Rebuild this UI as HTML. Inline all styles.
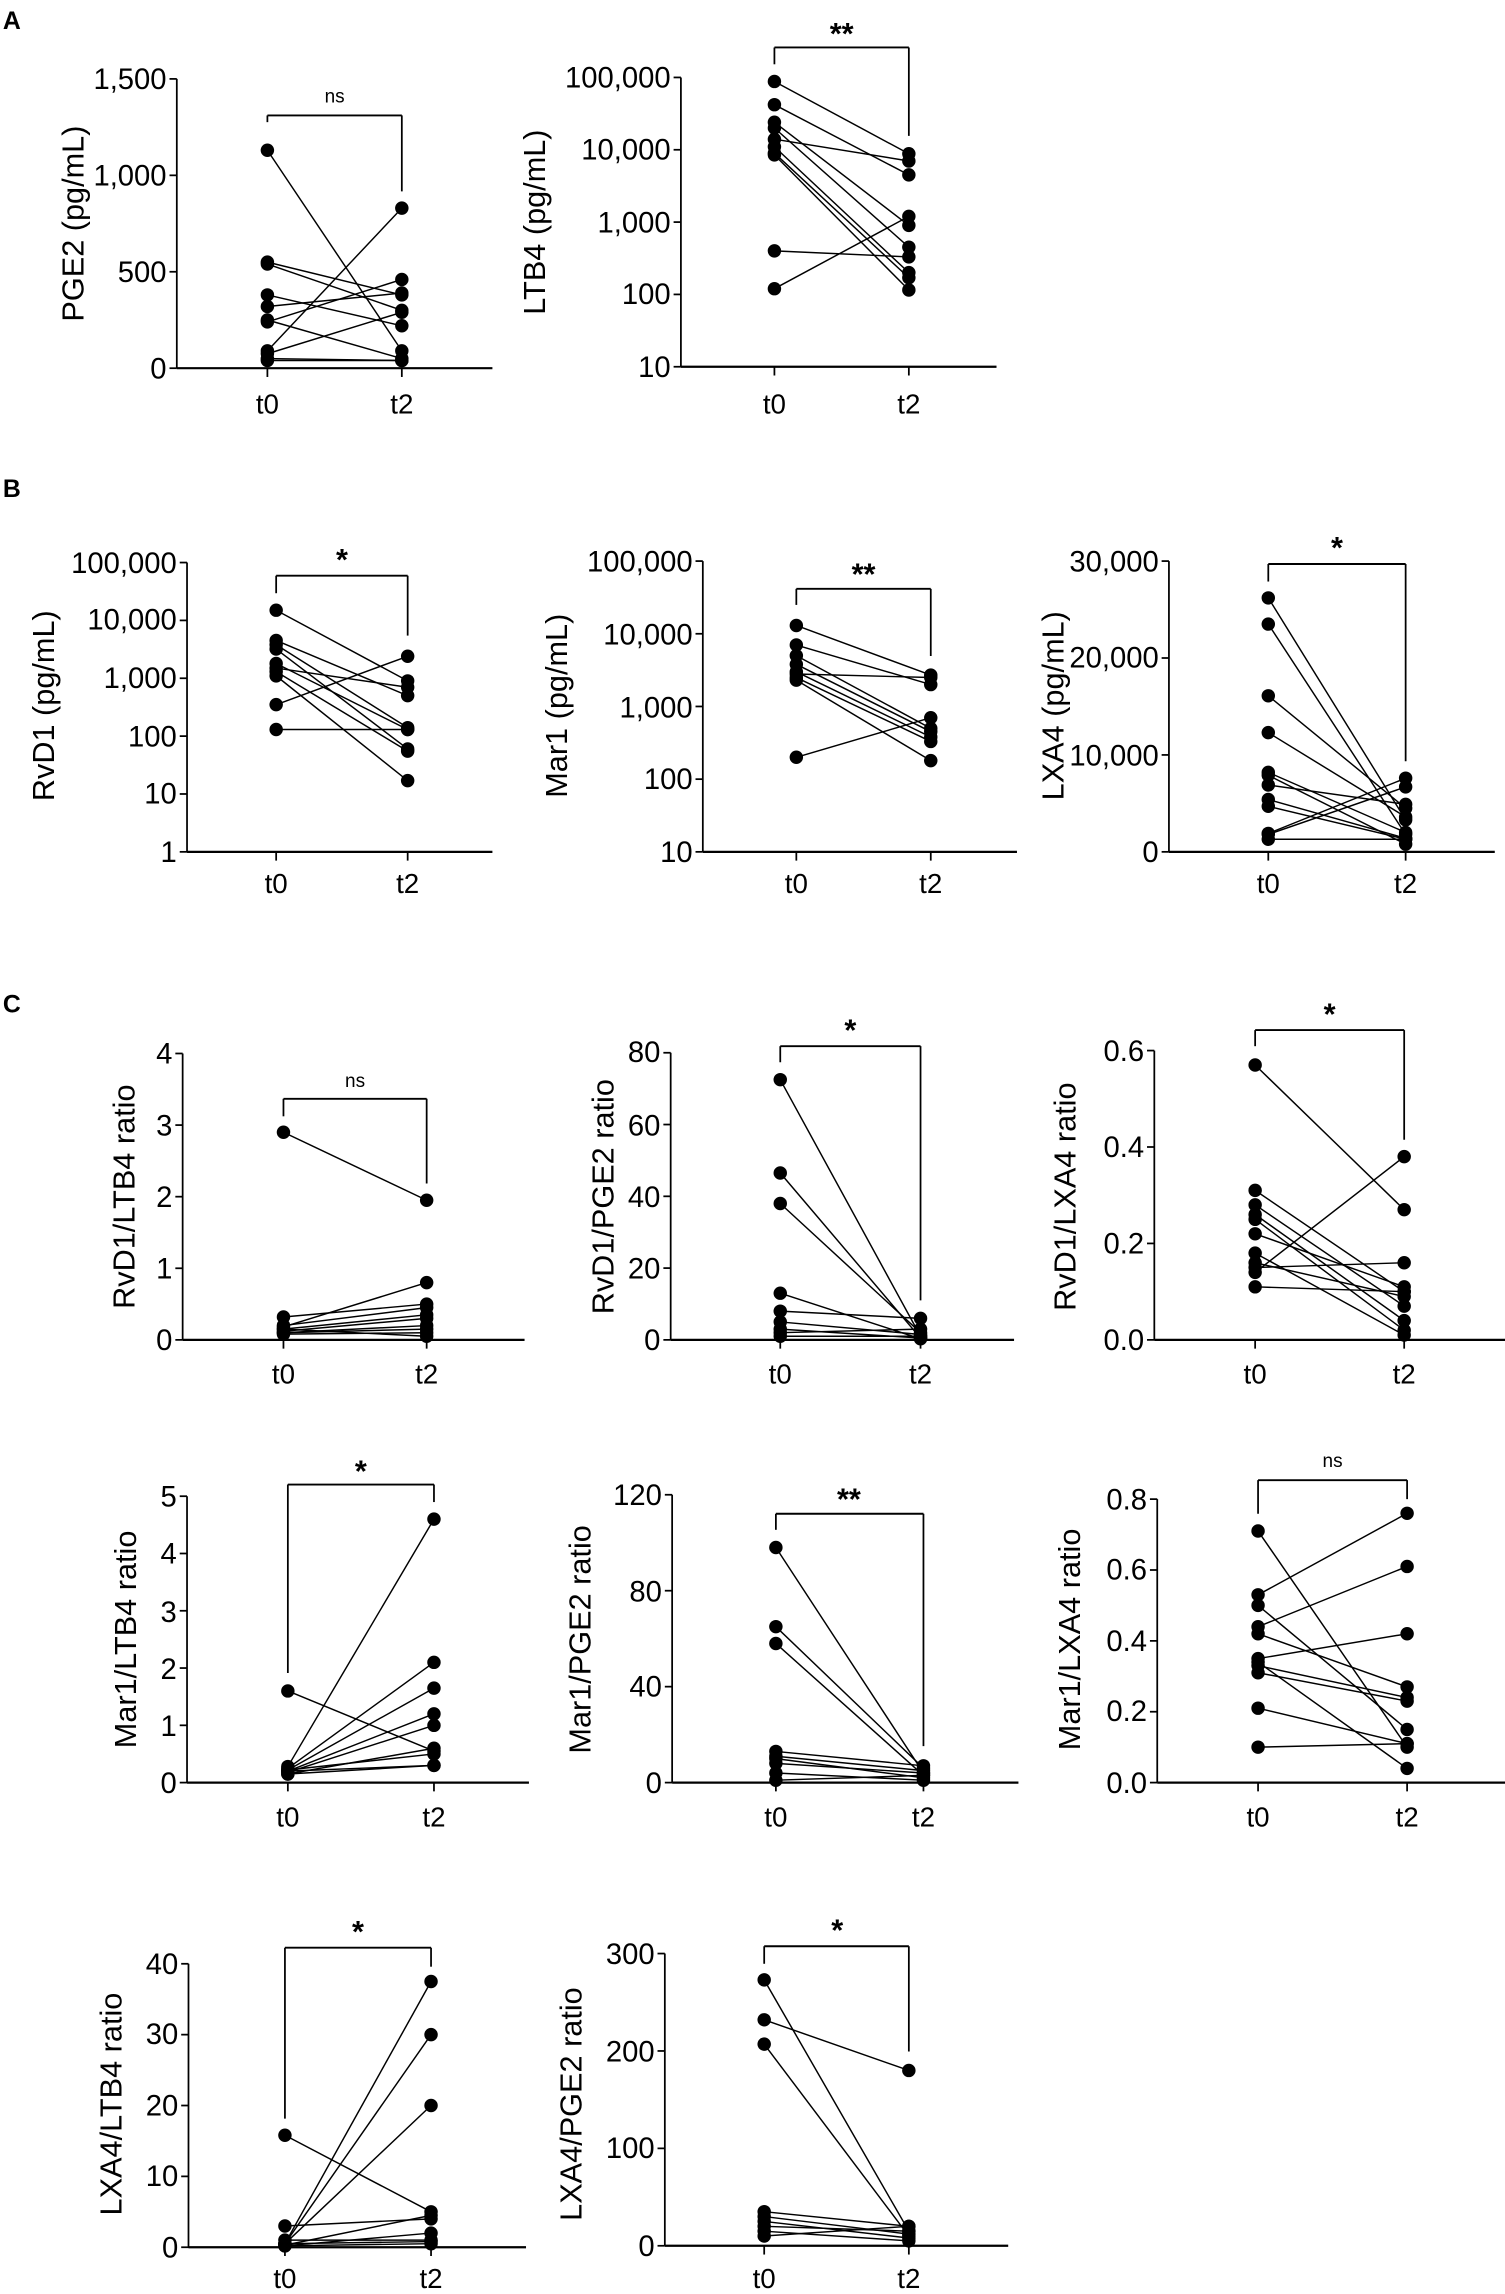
<!DOCTYPE html>
<html><head><meta charset="utf-8"><style>
html,body{margin:0;padding:0;background:#fff;}
svg{display:block;}
text{font-family:"Liberation Sans",Arial,sans-serif;fill:#000;}
.tk{font-size:20px;text-anchor:end;}
.tt{font-size:21px;text-anchor:middle;}
.tx{font-size:19px;text-anchor:middle;}
.st{font-size:21px;font-weight:bold;text-anchor:middle;}
.ns{font-size:13px;text-anchor:middle;}
.pl{font-size:17px;font-weight:bold;}
</style></head><body>
<svg id="s" width="1505" height="2294" viewBox="0 0 1030 1570" preserveAspectRatio="none" xmlns="http://www.w3.org/2000/svg">
<g id="g"></g>
<text class="pl" x="2" y="20">A</text>
<text class="pl" x="2" y="340">B</text>
<text class="pl" x="2" y="693">C</text>

<!-- A1 -->
<text class="tk" x="114" y="61">1,500</text><text class="tk" x="114" y="127">1,000</text><text class="tk" x="114" y="193">500</text><text class="tk" x="114" y="259">0</text>
<text class="tt" transform="translate(57,153) rotate(-90)">PGE2 (pg/mL)</text>
<text class="tx" x="183" y="283">t0</text><text class="tx" x="275" y="283">t2</text>
<text class="ns" x="229" y="70">ns</text>
<!-- A2 -->
<text class="tk" x="459" y="60">100,000</text><text class="tk" x="459" y="109">10,000</text><text class="tk" x="459" y="159">1,000</text><text class="tk" x="459" y="208">100</text><text class="tk" x="459" y="258">10</text>
<text class="tt" transform="translate(373,152) rotate(-90)">LTB4 (pg/mL)</text>
<text class="tx" x="530" y="283">t0</text><text class="tx" x="622" y="283">t2</text>
<text class="st" x="576" y="30">**</text>

<!-- B1 -->
<text class="tk" x="121" y="392">100,000</text><text class="tk" x="121" y="431">10,000</text><text class="tk" x="121" y="471">1,000</text><text class="tk" x="121" y="511">100</text><text class="tk" x="121" y="550">10</text><text class="tk" x="121" y="590">1</text>
<text class="tt" transform="translate(37,483) rotate(-90)">RvD1 (pg/mL)</text>
<text class="tx" x="189" y="611">t0</text><text class="tx" x="279" y="611">t2</text>
<text class="st" x="234" y="390">*</text>
<!-- B2 -->
<text class="tk" x="474" y="391">100,000</text><text class="tk" x="474" y="441">10,000</text><text class="tk" x="474" y="491">1,000</text><text class="tk" x="474" y="540">100</text><text class="tk" x="474" y="590">10</text>
<text class="tt" transform="translate(388,483) rotate(-90)">Mar1 (pg/mL)</text>
<text class="tx" x="545" y="611">t0</text><text class="tx" x="637" y="611">t2</text>
<text class="st" x="591" y="400">**</text>
<!-- B3 -->
<text class="tk" x="793" y="391">30,000</text><text class="tk" x="793" y="457">20,000</text><text class="tk" x="793" y="524">10,000</text><text class="tk" x="793" y="590">0</text>
<text class="tt" transform="translate(728,483) rotate(-90)">LXA4 (pg/mL)</text>
<text class="tx" x="868" y="611">t0</text><text class="tx" x="962" y="611">t2</text>
<text class="st" x="915" y="382">*</text>

<!-- C1 -->
<text class="tk" x="118" y="728">4</text><text class="tk" x="118" y="777">3</text><text class="tk" x="118" y="826">2</text><text class="tk" x="118" y="875">1</text><text class="tk" x="118" y="924">0</text>
<text class="tt" transform="translate(92,819) rotate(-90)">RvD1/LTB4 ratio</text>
<text class="tx" x="194" y="947">t0</text><text class="tx" x="292" y="947">t2</text>
<text class="ns" x="243" y="744">ns</text>
<!-- C2 -->
<text class="tk" x="452" y="727">80</text><text class="tk" x="452" y="777">60</text><text class="tk" x="452" y="826">40</text><text class="tk" x="452" y="875">20</text><text class="tk" x="452" y="924">0</text>
<text class="tt" transform="translate(420,819) rotate(-90)">RvD1/PGE2 ratio</text>
<text class="tx" x="534" y="947">t0</text><text class="tx" x="630" y="947">t2</text>
<text class="st" x="582" y="712">*</text>
<!-- C3 -->
<text class="tk" x="783" y="726">0.6</text><text class="tk" x="783" y="792">0.4</text><text class="tk" x="783" y="858">0.2</text><text class="tk" x="783" y="924">0.0</text>
<text class="tt" transform="translate(736,819) rotate(-90)">RvD1/LXA4 ratio</text>
<text class="tx" x="859" y="947">t0</text><text class="tx" x="961" y="947">t2</text>
<text class="st" x="910" y="701">*</text>

<!-- C4 -->
<text class="tk" x="121" y="1031">5</text><text class="tk" x="121" y="1070">4</text><text class="tk" x="121" y="1110">3</text><text class="tk" x="121" y="1149">2</text><text class="tk" x="121" y="1188">1</text><text class="tk" x="121" y="1227">0</text>
<text class="tt" transform="translate(93,1122) rotate(-90)">Mar1/LTB4 ratio</text>
<text class="tx" x="197" y="1250">t0</text><text class="tx" x="297" y="1250">t2</text>
<text class="st" x="247" y="1014">*</text>
<!-- C5 -->
<text class="tk" x="453" y="1030">120</text><text class="tk" x="453" y="1096">80</text><text class="tk" x="453" y="1161">40</text><text class="tk" x="453" y="1227">0</text>
<text class="tt" transform="translate(404,1122) rotate(-90)">Mar1/PGE2 ratio</text>
<text class="tx" x="531" y="1250">t0</text><text class="tx" x="632" y="1250">t2</text>
<text class="st" x="581" y="1033">**</text>
<!-- C6 -->
<text class="tk" x="785" y="1033">0.8</text><text class="tk" x="785" y="1081">0.6</text><text class="tk" x="785" y="1130">0.4</text><text class="tk" x="785" y="1178">0.2</text><text class="tk" x="785" y="1227">0.0</text>
<text class="tt" transform="translate(739,1122) rotate(-90)">Mar1/LXA4 ratio</text>
<text class="tx" x="861" y="1250">t0</text><text class="tx" x="963" y="1250">t2</text>
<text class="ns" x="912" y="1004">ns</text>

<!-- C7 -->
<text class="tk" x="122" y="1351">40</text><text class="tk" x="122" y="1399">30</text><text class="tk" x="122" y="1448">20</text><text class="tk" x="122" y="1496">10</text><text class="tk" x="122" y="1545">0</text>
<text class="tt" transform="translate(83,1440) rotate(-90)">LXA4/LTB4 ratio</text>
<text class="tx" x="195" y="1566">t0</text><text class="tx" x="295" y="1566">t2</text>
<text class="st" x="245" y="1329">*</text>
<!-- C8 -->
<text class="tk" x="448" y="1344">300</text><text class="tk" x="448" y="1411">200</text><text class="tk" x="448" y="1477">100</text><text class="tk" x="448" y="1544">0</text>
<text class="tt" transform="translate(398,1440) rotate(-90)">LXA4/PGE2 ratio</text>
<text class="tx" x="523" y="1566">t0</text><text class="tx" x="622" y="1566">t2</text>
<text class="st" x="573" y="1328">*</text>
</svg>
<script>
var P=[
{x:121,top:54,bot:252,end:337,t0:183,t2:275,lin:[0,1500],tk:[0,500,1000,1500],br:[79,83.6,131],
 d:[[1130,90],[550,380],[540,300],[380,220],[320,390],[250,50],[240,460],[90,830],[75,290],[50,40],[40,40]]},
{x:466,top:53,bot:251,end:682,t0:530,t2:622,log:[1,5],br:[32.5,44,93],
 d:[[88000,8800],[42000,4500],[24000,900],[20000,450],[14000,7000],[11000,200],[9000,170],[8500,115],[400,330],[120,1200]]},
{x:128,top:385,bot:583,end:337,t0:189,t2:279,log:[0,5],br:[394,406,435],
 d:[[15000,900],[4500,500],[3800,140],[3200,60],[1800,130],[1300,55],[1100,17],[350,2400],[130,130],[1500,700]]},
{x:481,top:384,bot:583,end:696,t0:545,t2:637,log:[1,5],br:[403,414,449],
 d:[[13000,2700],[7000,2000],[5000,500],[3800,450],[3000,380],[2500,330],[2300,180],[200,700],[2800,2500]]},
{x:800,top:384,bot:583,end:1023,t0:868,t2:962,lin:[0,30000],tk:[0,10000,20000,30000],br:[386,398,521],
 d:[[26200,3300],[23500,1800],[16100,4500],[12300,3600],[8200,2000],[7900,800],[6900,4900],[5400,1400],[4700,1300],[1900,7600],[1300,1300],[1800,6700]]},
{x:125,top:721,bot:917,end:359,t0:194,t2:292,lin:[0,4],tk:[0,1,2,3,4],br:[752,764,810],
 d:[[2.9,1.95],[0.32,0.5],[0.2,0.45],[0.18,0.8],[0.15,0.35],[0.12,0.3],[0.1,0.2],[0.08,0.1],[0.15,0.05],[0.1,0.15]]},
{x:459,top:720.5,bot:917,end:694,t0:534,t2:630,lin:[0,80],tk:[0,20,40,60,80],br:[716,727,890],
 d:[[72.5,1],[46.5,0.5],[38,2],[13,0.3],[8,6],[5,1.5],[3,0.5],[2,3],[1,1]]},
{x:790,top:719,bot:917,end:1030,t0:859,t2:961,lin:[0,0.6],tk:[0,0.2,0.4,0.6],br:[705,716,780],
 d:[[0.57,0.27],[0.31,0.1],[0.28,0.07],[0.26,0.04],[0.25,0.02],[0.22,0.11],[0.18,0.01],[0.16,0.09],[0.15,0.16],[0.14,0.38],[0.11,0.1]]},
{x:128,top:1024,bot:1220,end:362,t0:197,t2:297,lin:[0,5],tk:[0,1,2,3,4,5],br:[1016,1145,1028],
 d:[[1.6,0.55],[0.28,4.6],[0.25,2.1],[0.22,1.65],[0.2,1.2],[0.18,1.0],[0.15,0.6],[0.22,0.5],[0.15,0.3],[0.2,0.3]]},
{x:460,top:1023,bot:1220,end:697,t0:531,t2:632,lin:[0,120],tk:[0,40,80,120],br:[1036,1047,1195],
 d:[[98,4],[65,6],[58,3],[13,7],[11,5],[10,2],[8,4],[4,1],[1,3]]},
{x:792,top:1026,bot:1220,end:1030,t0:861,t2:963,lin:[0,0.8],tk:[0,0.2,0.4,0.6,0.8],br:[1013,1036,1026],
 d:[[0.71,0.1],[0.53,0.76],[0.5,0.15],[0.44,0.61],[0.42,0.27],[0.35,0.42],[0.33,0.24],[0.31,0.23],[0.21,0.11],[0.1,0.11],[0.34,0.04]]},
{x:129,top:1344,bot:1538,end:360,t0:195,t2:295,lin:[0,40],tk:[0,10,20,30,40],br:[1333,1450,1346],
 d:[[15.8,5],[3,4],[0.5,37.5],[0.5,30],[0.5,20],[0.3,4.5],[0.2,2],[1,1],[0.2,0.5],[0.5,0.8]]},
{x:455,top:1337,bot:1537,end:690,t0:523,t2:622,lin:[0,300],tk:[0,100,200,300],br:[1332,1344,1404],
 d:[[273,15],[232,180],[207,10],[35,20],[30,12],[25,8],[20,15],[15,5],[10,20]]}
];
var g=document.getElementById('g'),h='';
function L(a,b,c,d,w){h+='<line x1="'+a+'" y1="'+b+'" x2="'+c+'" y2="'+d+'" stroke="#000" stroke-width="'+(w||1)+'"/>';}
P.forEach(function(p){
 function Y(v){if(p.lin)return p.bot-(v-p.lin[0])/(p.lin[1]-p.lin[0])*(p.bot-p.top);
  var e=Math.log10(v);return p.bot-(e-p.log[0])/(p.log[1]-p.log[0])*(p.bot-p.top);}
 L(p.x,p.top,p.x,p.bot,1.2);L(p.x,p.bot,p.end,p.bot,1.5);
 var tk=p.tk;if(p.log){tk=[];for(var e=p.log[0];e<=p.log[1];e++)tk.push(Math.pow(10,e));}
 tk.forEach(function(v){var y=Y(v);L(p.x-5,y,p.x,y,1.2);});
 L(p.t0,p.bot,p.t0,p.bot+6,1.2);L(p.t2,p.bot,p.t2,p.bot+6,1.2);
 var b=p.br;L(p.t0,b[0],p.t2,b[0],1.3);L(p.t0,b[0],p.t0,b[1],1.2);L(p.t2,b[0],p.t2,b[2],1.2);
 p.d.forEach(function(q){L(p.t0,Y(q[0]),p.t2,Y(q[1]),1);});
 p.d.forEach(function(q){h+='<circle cx="'+p.t0+'" cy="'+Y(q[0])+'" r="4.6"/><circle cx="'+p.t2+'" cy="'+Y(q[1])+'" r="4.6"/>';});
});
g.innerHTML=h;
</script>
</body></html>
